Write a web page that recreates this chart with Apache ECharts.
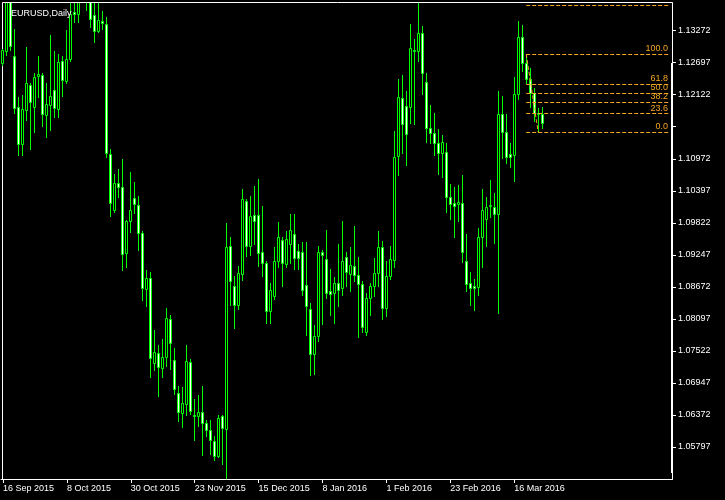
<!DOCTYPE html>
<html><head><meta charset="utf-8">
<script src="https://cdn.jsdelivr.net/npm/echarts@6/dist/echarts.min.js"></script>
<style>html,body{margin:0;padding:0;background:#000;}#c{width:725px;height:500px;}</style>
</head><body><div id="c"></div><script>
// ---- data ----
const dates = [
 '2015-09-16','2015-09-17','2015-09-18','2015-09-21','2015-09-22','2015-09-23','2015-09-24','2015-09-25','2015-09-28','2015-09-29','2015-09-30',
 '2015-10-01','2015-10-02','2015-10-05','2015-10-06','2015-10-07','2015-10-08','2015-10-09','2015-10-12','2015-10-13','2015-10-14','2015-10-15','2015-10-16','2015-10-19','2015-10-20','2015-10-21','2015-10-22','2015-10-23','2015-10-26','2015-10-27','2015-10-28','2015-10-29','2015-10-30',
 '2015-11-02','2015-11-03','2015-11-04','2015-11-05','2015-11-06','2015-11-09','2015-11-10','2015-11-11','2015-11-12','2015-11-13','2015-11-16','2015-11-17','2015-11-18','2015-11-19','2015-11-20','2015-11-23','2015-11-24','2015-11-25','2015-11-26','2015-11-27','2015-11-30',
 '2015-12-01','2015-12-02','2015-12-03','2015-12-04','2015-12-07','2015-12-08','2015-12-09','2015-12-10','2015-12-11','2015-12-14','2015-12-15','2015-12-16','2015-12-17','2015-12-18','2015-12-21','2015-12-22','2015-12-23','2015-12-24','2015-12-28','2015-12-29','2015-12-30','2015-12-31',
 '2016-01-04','2016-01-05','2016-01-06','2016-01-07','2016-01-08','2016-01-11','2016-01-12','2016-01-13','2016-01-14','2016-01-15','2016-01-18','2016-01-19','2016-01-20','2016-01-21','2016-01-22','2016-01-25','2016-01-26','2016-01-27','2016-01-28','2016-01-29',
 '2016-02-01','2016-02-02','2016-02-03','2016-02-04','2016-02-05','2016-02-08','2016-02-09','2016-02-10','2016-02-11','2016-02-12','2016-02-15','2016-02-16','2016-02-17','2016-02-18','2016-02-19','2016-02-22','2016-02-23','2016-02-24','2016-02-25','2016-02-26','2016-02-29',
 '2016-03-01','2016-03-02','2016-03-03','2016-03-04','2016-03-07','2016-03-08','2016-03-09','2016-03-10','2016-03-11','2016-03-14','2016-03-15','2016-03-16','2016-03-17','2016-03-18','2016-03-21','2016-03-22','2016-03-23','2016-03-24','2016-03-25'
];
const open = [
 1.1270,1.1290,1.1435,1.1282,1.1190,1.1123,1.1185,1.1230,1.1191,1.1245,1.1247,
 1.1175,1.1193,1.1221,1.1186,1.1273,1.1236,1.1276,1.1361,1.1358,1.1380,1.1472,1.1384,1.1355,1.1327,1.1344,1.1339,1.1106,1.1005,1.1053,1.1046,1.0928,1.0985,
 1.1027,1.1014,1.0964,1.0863,1.0883,1.0730,1.0748,1.0721,1.0742,1.0809,1.0735,1.0677,1.0641,1.0657,1.0733,1.0638,1.0635,1.0642,1.0623,1.0611,1.0590,
 1.0563,1.0635,1.0612,1.0940,1.0869,1.0834,1.0890,1.1022,1.0940,1.0997,1.0996,1.0930,1.0910,1.0823,1.0850,1.0913,1.0952,1.0909,1.0944,1.0963,1.0931,1.0930,
 1.0870,1.0827,1.0747,1.0779,1.0930,1.0917,1.0859,1.0857,1.0874,1.0865,1.0921,1.0890,1.0904,1.0888,1.0872,1.0787,1.0847,1.0868,1.0892,1.0939,
 1.0829,1.0886,1.0916,1.1102,1.1206,1.1192,1.1191,1.1293,1.1290,1.1323,1.1235,1.1153,1.1143,1.1126,1.1107,1.1110,1.1028,1.1018,1.1016,1.1018,1.0913,
 1.0875,1.0868,1.0867,1.0956,1.0989,1.1012,1.1010,1.0998,1.1177,1.1145,1.1106,1.1104,1.1213,1.1315,1.1269,1.1240,1.1216,1.1180,1.1178
];
const high = [
 1.1295,1.1437,1.1460,1.1331,1.1208,1.1212,1.1297,1.1233,1.1251,1.1282,1.1251,
 1.1233,1.1320,1.1291,1.1285,1.1281,1.1328,1.1387,1.1386,1.1392,1.1478,1.1495,1.1392,1.1380,1.1387,1.1362,1.1352,1.1115,1.1070,1.1079,1.1097,1.0988,1.1074,
 1.1055,1.1030,1.0968,1.0898,1.0894,1.0790,1.0763,1.0773,1.0829,1.0817,1.0757,1.0690,1.0687,1.0763,1.0737,1.0665,1.0673,1.0690,1.0629,1.0629,1.0599,
 1.0638,1.0638,1.0982,1.0956,1.0887,1.0904,1.1043,1.1025,1.1030,1.1048,1.1061,1.1012,1.0914,1.0874,1.0939,1.0984,1.0956,1.0968,1.0998,1.0998,1.0945,1.0948,
 1.0948,1.0838,1.0799,1.0940,1.0934,1.0970,1.0899,1.0885,1.0945,1.0986,1.0929,1.0939,1.0977,1.0921,1.0877,1.0856,1.0874,1.0919,1.0968,1.0950,
 1.0914,1.0941,1.1147,1.1241,1.1248,1.1218,1.1339,1.1312,1.1377,1.1336,1.1251,1.1194,1.1179,1.1150,1.1140,1.1125,1.1052,1.1046,1.1050,1.1068,1.0962,
 1.0894,1.0882,1.0973,1.1043,1.1028,1.1059,1.1036,1.1219,1.1210,1.1178,1.1125,1.1244,1.1345,1.1337,1.1285,1.1260,1.1224,1.1188,1.1190
];
const low = [
 1.1265,1.1284,1.1293,1.1180,1.1104,1.1104,1.1167,1.1115,1.1146,1.1209,1.1156,
 1.1136,1.1149,1.1172,1.1172,1.1210,1.1234,1.1272,1.1343,1.1343,1.1378,1.1364,1.1334,1.1306,1.1325,1.1330,1.1101,1.0995,1.1002,1.1029,1.0897,1.0903,1.0965,
 1.1000,1.0934,1.0843,1.0832,1.0706,1.0718,1.0671,1.0705,1.0725,1.0720,1.0675,1.0627,1.0615,1.0638,1.0639,1.0592,1.0618,1.0565,1.0600,1.0567,1.0556,
 1.0562,1.0549,1.0522,1.0835,1.0794,1.0827,1.0879,1.0923,1.0925,1.0944,1.0904,1.0887,1.0802,1.0803,1.0845,1.0902,1.0869,1.0903,1.0910,1.0899,1.0899,1.0852,
 1.0780,1.0709,1.0711,1.0770,1.0801,1.0847,1.0817,1.0803,1.0833,1.0853,1.0868,1.0859,1.0877,1.0777,1.0787,1.0780,1.0817,1.0850,1.0868,1.0809,
 1.0814,1.0881,1.0903,1.1068,1.1107,1.1086,1.1161,1.1160,1.1273,1.1214,1.1128,1.1125,1.1104,1.1070,1.1065,1.1002,1.0989,1.0956,1.0986,1.0911,1.0859,
 1.0834,1.0825,1.0852,1.0903,1.0940,1.0993,1.0946,1.0821,1.1098,1.1090,1.1082,1.1058,1.1205,1.1255,1.1233,1.1190,1.1165,1.1145,1.1152
];
const close = [
 1.1292,1.1435,1.1299,1.1189,1.1123,1.1186,1.1233,1.1200,1.1244,1.1250,1.1177,
 1.1196,1.1210,1.1188,1.1271,1.1238,1.1276,1.1358,1.1357,1.1380,1.1472,1.1384,1.1348,1.1327,1.1346,1.1341,1.1108,1.1017,1.1053,1.1046,1.0926,1.0986,1.1005,
 1.1016,1.0964,1.0865,1.0883,1.0739,1.0750,1.0723,1.0741,1.0811,1.0766,1.0684,1.0642,1.0658,1.0734,1.0645,1.0635,1.0642,1.0623,1.0611,1.0593,1.0563,
 1.0632,1.0614,1.0939,1.0877,1.0835,1.0892,1.1025,1.0940,1.0994,1.0985,1.0928,1.0910,1.0823,1.0862,1.0914,1.0956,1.0910,1.0953,1.0969,1.0919,1.0919,1.0861,
 1.0832,1.0747,1.0779,1.0930,1.0924,1.0857,1.0855,1.0875,1.0862,1.0914,1.0893,1.0906,1.0888,1.0872,1.0796,1.0847,1.0869,1.0892,1.0939,1.0829,
 1.0886,1.0917,1.1101,1.1208,1.1160,1.1141,1.1296,1.1290,1.1323,1.1251,1.1153,1.1143,1.1126,1.1107,1.1128,1.1028,1.1016,1.1013,1.1020,1.0929,1.0873,
 1.0865,1.0865,1.0956,1.1006,1.1011,1.1014,1.0998,1.1177,1.1146,1.1101,1.1101,1.1213,1.1315,1.1270,1.1240,1.1216,1.1180,1.1178,1.1162
];
// empty future slots on the right of the chart (chart shift)
const futureSlots = 32;
// price scale
const priceMin = 1.05222, priceMax = 1.13769, priceStep = 0.00575;
// fibonacci retracement
const fibLevels = [0, 23.6, 38.2, 50, 61.8, 100, 161.8];
const fibHigh = 1.12854, fibLow = 1.11449;
const fibFrom = '2016-03-21', fibTo = '2016-03-24';
const months = ['Jan','Feb','Mar','Apr','May','Jun','Jul','Aug','Sep','Oct','Nov','Dec'];

// ---- build ----
const GREEN = '#00ff00', ORANGE = '#F5A623', FONT = 'Liberation Sans';
const cats = dates.concat(Array.from({length: futureSlots}, (_, i) => 'slot' + i));
const bars = dates.map((d, i) => [i, open[i], close[i], low[i], high[i]]);
const lastIdx = cats.length - 1;
function fmtDate(s) {
  if (!/^\d{4}-/.test(s)) return '';
  const [y, m, d] = s.split('-');
  return (+d) + ' ' + months[+m - 1] + ' ' + y;
}
const fibLines = fibLevels.map(l => {
  const v = fibLow + (fibHigh - fibLow) * l / 100;
  return [
    {coord: [dates.indexOf(fibFrom), v], label: {show: l <= 100, formatter: l.toFixed(1)}},
    {coord: [lastIdx, v]}
  ];
});
fibLines.push([
  {coord: [dates.indexOf(fibFrom), fibHigh], label: {show: false}},
  {coord: [dates.indexOf(fibTo), fibLow]}
]);

// MT4-style candle: lime wick + 3px body (lime outline, black = up, white = down)
function renderCandle(params, api) {
  const j = api.value(0), o = api.value(1), c = api.value(2), l = api.value(3), h = api.value(4);
  const pO = api.coord([j, o]), pC = api.coord([j, c]);
  const yL = api.coord([j, l])[1], yH = api.coord([j, h])[1];
  const x = Math.floor(pO[0]) + 0.5;
  const b1 = Math.round(Math.min(pO[1], pC[1])) + 0.5;
  const b2 = Math.round(Math.max(pO[1], pC[1])) + 0.5;
  return {
    type: 'group',
    children: [
      {type: 'line', shape: {x1: x, y1: Math.round(yH), x2: x, y2: Math.round(yL) + 1},
        style: {stroke: GREEN, lineWidth: 1}},
      {type: 'rect', shape: {x: x - 1, y: b1, width: 2, height: b2 - b1},
        style: {fill: c > o ? '#000000' : '#ffffff', stroke: GREEN, lineWidth: 1}}
    ]
  };
}

const chart = echarts.init(document.getElementById('c'), null, {renderer: 'canvas'});
chart.setOption({
  backgroundColor: '#000000',
  animation: false,
  title: {text: 'EURUSD,Daily', left: 6, top: 4,
    textStyle: {color: '#ffffff', fontSize: 9, fontWeight: 'normal', fontFamily: FONT}},
  grid: {left: 0, right: 53, top: 3, bottom: 21, containLabel: false},
  xAxis: {
    type: 'category', data: cats, boundaryGap: true,
    axisLine: {show: true, lineStyle: {color: '#ffffff', width: 1}},
    axisTick: {show: true, length: 4, alignWithLabel: true, lineStyle: {color: '#ffffff'},
      interval: (i) => i % 16 === 0 && i < dates.length},
    axisLabel: {show: true, color: '#ffffff', fontSize: 9, fontFamily: FONT, align: 'left', margin: 5,
      interval: (i) => i % 16 === 0 && i < dates.length, formatter: fmtDate},
    splitLine: {show: false}
  },
  yAxis: {
    type: 'value', position: 'right', scale: true,
    min: priceMin, max: priceMax, interval: priceStep,
    axisLine: {show: true, lineStyle: {color: '#ffffff', width: 1}},
    axisTick: {show: true, length: 4, lineStyle: {color: '#ffffff'}},
    axisLabel: {show: true, color: '#ffffff', fontSize: 9, fontFamily: FONT, margin: 6,
      showMinLabel: false, showMaxLabel: false,
      formatter: (v) => Math.abs(v - 1.11547) < 1e-6 ? '' : v.toFixed(5)},
    splitLine: {show: false}
  },
  graphic: [
    {type: 'rect', z: 1, shape: {x: 2.5, y: 2.5, width: 670, height: 477}, style: {fill: 'none', stroke: '#ffffff', lineWidth: 1}, silent: true},
    {type: 'rect', z: 1, shape: {x: 671, y: 63, width: 2, height: 410}, style: {fill: '#ffffff'}, silent: true}
  ],
  series: [{
    type: 'custom',
    data: bars,
    encode: {x: 0, y: [1, 2, 3, 4]},
    clip: true,
    z: 3,
    renderItem: renderCandle,
    markLine: {
      silent: true, symbol: ['none', 'none'], animation: false,
      lineStyle: {color: ORANGE, type: [4, 2], width: 1},
      label: {position: 'insideEndTop', color: ORANGE, fontSize: 9, fontFamily: FONT, distance: [2, 1]},
      emphasis: {disabled: true},
      data: fibLines
    }
  }]
});
</script></body></html>
